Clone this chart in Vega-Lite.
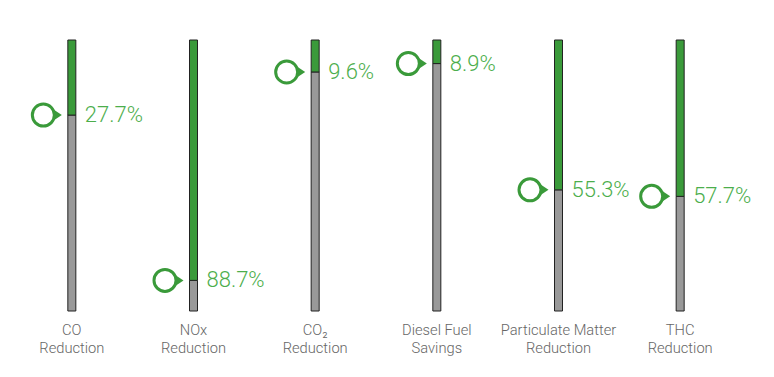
{
  "$schema": "https://vega.github.io/schema/vega-lite/v6.json",
  "width": 730,
  "height": 271,
  "autosize": {"type": "none"},
  "padding": {"left": 11, "top": 40, "right": 33, "bottom": 66},
  "background": "white",
  "config": {"view": {"stroke": null}},
  "data": {
    "values": [
      {"cat": "CO|Reduction", "share": 0.277, "label": "27.7%"},
      {"cat": "NOx|Reduction", "share": 0.887, "label": "88.7%"},
      {"cat": "CO₂|Reduction", "share": 0.118, "label": "9.6%"},
      {"cat": "Diesel Fuel|Savings", "share": 0.087, "label": "8.9%"},
      {"cat": "Particulate Matter|Reduction", "share": 0.553, "label": "55.3%"},
      {"cat": "THC|Reduction", "share": 0.577, "label": "57.7%"}
    ]
  },
  "encoding": {
    "x": {
      "field": "cat",
      "type": "nominal",
      "sort": null,
      "scale": {"paddingInner": 0, "paddingOuter": 0},
      "axis": {
        "title": null,
        "domain": false,
        "ticks": false,
        "labelAngle": 0,
        "labelPadding": 11,
        "labelBaseline": "top",
        "labelFont": "Roboto",
        "labelFontWeight": 300,
        "labelFontSize": 14.7,
        "labelColor": "#666666",
        "labelLineHeight": 18,
        "labelLimit": 200,
        "labelExpr": "split(datum.label, '|')"
      }
    },
    "y": {"field": "share", "type": "quantitative", "scale": {"domain": [0, 1], "reverse": true}, "axis": null}
  },
  "layer": [
    {
      "mark": {"type": "bar", "width": 8, "fill": "#999999", "stroke": "#222222", "strokeWidth": 1},
      "encoding": {
        "y2": {"datum": 1}
      }
    },
    {
      "mark": {"type": "bar", "width": 8, "fill": "#3a9a3a", "stroke": "#222222", "strokeWidth": 1}
    },
    {
      "mark": {
        "type": "point",
        "shape": "M1,0L-0.5,-1L-0.5,1Z",
        "size": 196,
        "filled": true,
        "color": "#3a9a3a",
        "opacity": 1,
        "xOffset": -17
      }
    },
    {
      "mark": {
        "type": "point",
        "shape": "circle",
        "size": 484,
        "filled": false,
        "fill": "white",
        "fillOpacity": 1,
        "stroke": "#3a9a3a",
        "strokeWidth": 3,
        "opacity": 1,
        "xOffset": -28.5
      }
    },
    {
      "mark": {
        "type": "text",
        "align": "left",
        "baseline": "middle",
        "dx": 13,
        "font": "Roboto",
        "fontWeight": 300,
        "fontSize": 22,
        "color": "#4cae4c"
      },
      "encoding": {
        "text": {"field": "label"}
      }
    }
  ]
}
